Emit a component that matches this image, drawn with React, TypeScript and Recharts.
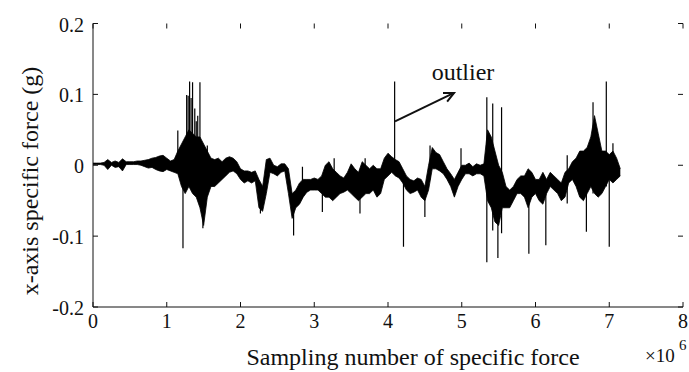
import { ComposedChart, Area, Line, XAxis, YAxis, ReferenceLine } from 'recharts';

const FONT = '"Liberation Serif", "Times New Roman", serif';
const INK = '#111';

// axis ticks (x in units of 10^6 samples)
const xTicks = [0, 1, 2, 3, 4, 5, 6, 7, 8];
const yTicks = [-0.2, -0.1, 0, 0.1, 0.2];

// envelope of the dense signal, one column every 0.05e6 samples, from 0 to 7.15e6
const bandStep = 0.05;
const bandLow = [
  0.001, 0.001, 0.001, 0.000, -0.006, 0.000, -0.003, -0.002, -0.008, 0.001,
  0.001, 0.001, 0.001, 0.000, -0.002, -0.004, -0.003, -0.006, -0.008, -0.009,
  -0.006, -0.008, -0.010, -0.012, -0.030, -0.040, -0.030, -0.040, -0.045, -0.060,
  -0.085, -0.045, -0.030, -0.030, -0.025, -0.020, -0.015, -0.010, -0.008, -0.012,
  -0.020, -0.025, -0.022, -0.025, -0.022, -0.060, -0.065, -0.040, -0.010, -0.012,
  -0.015, -0.010, -0.008, -0.040, -0.075, -0.060, -0.055, -0.045, -0.038, -0.035,
  -0.035, -0.035, -0.040, -0.045, -0.045, -0.050, -0.045, -0.040, -0.038, -0.035,
  -0.040, -0.045, -0.050, -0.045, -0.040, -0.040, -0.035, -0.045, -0.040, -0.020,
  -0.015, -0.010, -0.015, -0.018, -0.025, -0.035, -0.040, -0.038, -0.035, -0.045,
  -0.050, -0.035, -0.005, -0.005, -0.008, -0.012, -0.020, -0.030, -0.045, -0.030,
  -0.020, -0.012, -0.012, -0.015, -0.012, -0.012, -0.015, -0.050, -0.060, -0.080,
  -0.085, -0.060, -0.060, -0.060, -0.050, -0.040, -0.040, -0.045, -0.060, -0.045,
  -0.040, -0.050, -0.055, -0.040, -0.030, -0.035, -0.040, -0.050, -0.045, -0.025,
  -0.020, -0.030, -0.045, -0.050, -0.040, -0.030, -0.040, -0.045, -0.040, -0.030,
  -0.020, -0.025, -0.020, -0.015,
];
const bandHigh = [
  0.003, 0.003, 0.003, 0.004, 0.008, 0.004, 0.006, 0.004, 0.009, 0.005,
  0.005, 0.005, 0.006, 0.006, 0.007, 0.008, 0.010, 0.011, 0.013, 0.014,
  0.010, 0.006, 0.008, 0.020, 0.030, 0.040, 0.050, 0.045, 0.040, 0.040,
  0.030, 0.020, 0.010, 0.008, 0.010, 0.005, 0.010, 0.012, 0.010, 0.005,
  -0.005, -0.008, -0.008, -0.010, -0.008, -0.020, -0.030, 0.008, 0.010, 0.000,
  -0.002, 0.002, 0.002, -0.005, -0.040, -0.035, -0.025, -0.020, -0.020, -0.020,
  -0.018, -0.020, -0.015, 0.000, 0.005, -0.005, -0.010, -0.015, -0.018, -0.010,
  0.002, -0.005, -0.010, 0.005, 0.000, -0.005, 0.000, -0.005, -0.005, 0.010,
  0.017, 0.012, 0.008, 0.005, -0.005, -0.015, -0.020, -0.022, -0.018, -0.020,
  -0.030, 0.000, 0.025, 0.018, 0.015, 0.005, -0.005, -0.012, -0.020, -0.010,
  0.000, 0.000, 0.003, -0.002, 0.002, 0.000, 0.002, 0.050, 0.040, 0.020,
  0.000, -0.010, -0.030, -0.035, -0.030, -0.020, -0.015, -0.015, -0.005, -0.010,
  -0.020, -0.020, -0.010, -0.020, -0.010, -0.015, -0.020, -0.025, -0.010, -0.005,
  0.005, 0.010, 0.020, 0.020, 0.025, 0.040, 0.070, 0.045, 0.020, 0.020,
  0.015, 0.020, 0.010, -0.005,
];

// isolated thin spikes: position, bottom and top value
const spikeX = [
  1.15, 1.22, 1.27, 1.29, 1.31, 1.33, 1.35, 1.38, 1.4, 1.42, 1.45, 1.49, 1.55, 2.27, 2.72, 2.84,
  3.11, 3.27, 3.62, 3.69, 4.09, 4.21, 4.5, 4.57, 4.99, 5.34, 5.42, 5.49, 5.54, 5.91, 6.14, 6.43,
  6.69, 6.78, 6.96, 7.0, 7.05,
];
const spikeLow = [
  -0.01, -0.117, -0.03, -0.02, -0.02, -0.03, -0.03, -0.03, -0.03, -0.04, -0.04, -0.089, -0.03, -0.068, -0.099, -0.03,
  -0.066, -0.04, -0.068, -0.03, -0.01, -0.115, -0.073, -0.02, -0.02, -0.137, -0.092, -0.131, -0.096, -0.125, -0.113, -0.054,
  -0.094, -0.04, -0.03, -0.115, -0.02,
];
const spikeHigh = [
  0.049, -0.01, 0.099, 0.098, 0.118, 0.095, 0.117, 0.08, 0.062, 0.07, 0.117, -0.03, 0.028, -0.03, -0.05, -0.002,
  -0.02, 0.01, -0.03, 0.01, 0.118, -0.01, -0.04, 0.028, 0.024, 0.096, 0.087, -0.05, 0.082, -0.02, -0.03, 0.014,
  -0.03, 0.089, 0.118, -0.01, 0.031,
];

// annotation arrow (data coordinates)
const arrowFrom = { x: 4.095, y: 0.062 };
const arrowTo = { x: 4.895, y: 0.102 };

const bandData = bandLow.map((lo, i) => ({ x: +(i * bandStep).toFixed(2), band: [lo, bandHigh[i]] }));
const spikes = spikeX.map((x, i) => [
  { x, y: spikeLow[i] },
  { x, y: spikeHigh[i] },
]);

const TICK_LEN = 5;
const MARGIN = { top: 23.5, right: 6, bottom: 35, left: 33 };
const Y_AXIS_W = 60;
const X_AXIS_H = 30;
const PLOT_W = 689 - MARGIN.left - MARGIN.right - Y_AXIS_W;
const PLOT_H = 372 - MARGIN.top - MARGIN.bottom - X_AXIS_H;

// bottom tick also draws the mirrored inward tick on the top frame
const BottomTick = ({ x, y, payload }: any) => (
  <g>
    <line x1={x} x2={x} y1={y} y2={y - TICK_LEN} stroke={INK} />
    <line x1={x} x2={x} y1={y - PLOT_H} y2={y - PLOT_H + TICK_LEN} stroke={INK} />
    <text x={x} y={y + 21} textAnchor="middle" fontSize={20} fontFamily={FONT} fill={INK}>
      {payload.value}
    </text>
  </g>
);
// left tick also draws the mirrored inward tick on the right frame
const LeftTick = ({ x, y, payload }: any) => (
  <g>
    <line x1={x} x2={x + TICK_LEN} y1={y} y2={y} stroke={INK} />
    <line x1={x + PLOT_W} x2={x + PLOT_W - TICK_LEN} y1={y} y2={y} stroke={INK} />
    <text x={x - 9} y={y + 8} textAnchor="end" fontSize={20} fontFamily={FONT} fill={INK}>
      {payload.value}
    </text>
  </g>
);

const Arrow = (p: any) => {
  const { x1, y1, x2, y2 } = p;
  const a = Math.atan2(y2 - y1, x2 - x1);
  const len = 11;
  const h1 = [x2 - len * Math.cos(a - 0.45), y2 - len * Math.sin(a - 0.45)];
  const h2 = [x2 - len * Math.cos(a + 0.45), y2 - len * Math.sin(a + 0.45)];
  return (
    <g stroke={INK} strokeWidth={2} fill="none">
      <line x1={x1} y1={y1} x2={x2} y2={y2} />
      <polyline points={`${h1[0]},${h1[1]} ${x2},${y2} ${h2[0]},${h2[1]}`} />
    </g>
  );
};

export default function App() {
  return (
    <div style={{ position: 'absolute', left: 0, top: 0, width: 689, height: 372, background: '#fff' }}>
      <ComposedChart width={689} height={372} data={bandData} margin={MARGIN}>
        <XAxis
          xAxisId="b"
          dataKey="x"
          type="number"
          domain={[0, 8]}
          ticks={xTicks}
          allowDataOverflow
          height={X_AXIS_H}
          tickSize={0}
          tickMargin={0}
          tickLine={false}
          axisLine={{ stroke: INK }}
          tick={BottomTick}
          interval={0}
        />
        <YAxis
          yAxisId="l"
          type="number"
          domain={[-0.2, 0.2]}
          ticks={yTicks}
          allowDataOverflow
          width={Y_AXIS_W}
          tickSize={0}
          tickMargin={0}
          tickLine={false}
          axisLine={{ stroke: INK }}
          tick={LeftTick}
          interval={0}
        />
        <YAxis yAxisId="r" orientation="right" width={0} tick={false} tickLine={false} axisLine={{ stroke: INK }} />
        <XAxis xAxisId="t" orientation="top" height={0} tick={false} tickLine={false} axisLine={{ stroke: INK }} />
        <Area
          xAxisId="b"
          yAxisId="l"
          dataKey="band"
          type="linear"
          stroke="#000"
          strokeWidth={0.8}
          fill="#000"
          fillOpacity={1}
          dot={false}
          activeDot={false}
          isAnimationActive={false}
        />
        {spikes.map((s, i) => (
          <Line
            key={i}
            xAxisId="b"
            yAxisId="l"
            data={s}
            dataKey="y"
            type="linear"
            stroke="#000"
            strokeWidth={1.2}
            dot={false}
            activeDot={false}
            isAnimationActive={false}
          />
        ))}
        <ReferenceLine xAxisId="b" yAxisId="l" segment={[arrowFrom, arrowTo]} shape={Arrow} />
      </ComposedChart>
      <svg width={689} height={372} style={{ position: 'absolute', left: 0, top: 0, pointerEvents: 'none' }}>
        <g fontFamily={FONT} fill={INK}>
          <text x={413} y={365} fontSize={24} textAnchor="middle">Sampling number of specific force</text>
          <text x={38} y={181} fontSize={24} textAnchor="middle" transform="rotate(-90 38 181)">
            x-axis specific force (g)
          </text>
          <text x={463} y={80} fontSize={24} textAnchor="middle">outlier</text>
          <text x={645} y={362} fontSize={19}>×10</text>
          <text x={679} y={350} fontSize={15}>6</text>
        </g>
      </svg>
    </div>
  );
}
